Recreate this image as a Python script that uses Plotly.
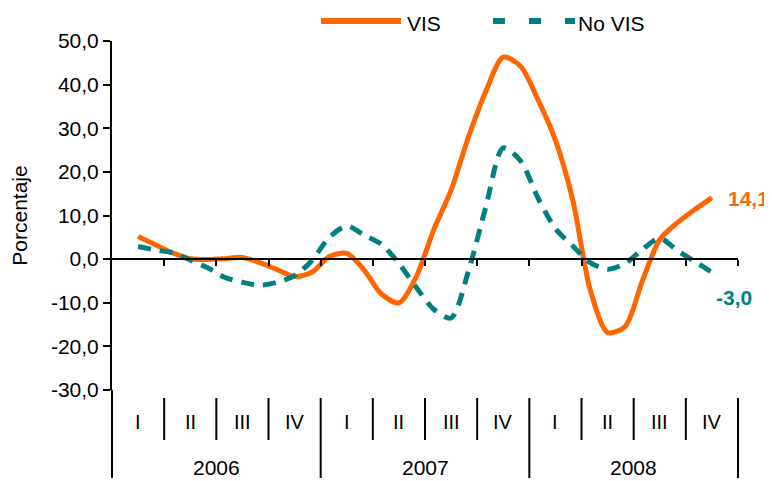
import plotly.graph_objects as go

# ---- data (monthly, Feb-2006 .. Nov-2008; month index 0 = Jan-2006) ----
first_month_index = 1
vis = [5.2, 3.3, 1.4, 0.1, -0.1, 0.1, 0.4, -0.8, -2.4, -4.0, -3.0, 0.6,
       1.3, -2.5, -8.0, -10.0, -4.0, 6.7, 15.8, 28.0, 38.5, 46.3, 44.2, 36.5,
       27.3, 13.5, -7.0, -16.8, -15.5, -5.0, 4.5, 8.3, 11.3, 14.1]
no_vis = [2.9, 2.1, 1.4, -0.2, -2.0, -4.2, -5.3, -6.0, -5.3, -3.8, -0.3, 5.0,
          7.6, 5.5, 3.4, -1.0, -6.5, -11.5, -13.5, -2.7, 12.0, 25.5, 22.5, 14.0,
          7.0, 3.0, -0.8, -2.3, -1.0, 2.2, 4.8, 2.0, -0.5, -3.0]
years = ["2006", "2007", "2008"]
quarters = ["I", "II", "III", "IV"]
y_tick_values = [-30, -20, -10, 0, 10, 20, 30, 40, 50]
y_tick_labels = ["-30,0", "-20,0", "-10,0", "0,0", "10,0", "20,0", "30,0", "40,0", "50,0"]
series_names = ["VIS", "No VIS"]
last_vis_label = "14,1"
last_novis_label = "-3,0"

ORANGE = "#FF6600"
TEAL = "#008080"
FONT = "Liberation Sans, Arial, sans-serif"

# the page body has an 8px margin, so the figure is sized to fit the window
OFF = 8
W, H = 772 - OFF, 481 - OFF
ML, MT = 112 - OFF, 41 - OFF
plot_w, plot_h = 626, 349
MR = W - ML - plot_w
MB = H - MT - plot_h

x = list(range(first_month_index, first_month_index + len(vis)))
n_months = 12 * len(years)

fig = go.Figure()
fig.add_trace(go.Scatter(x=x, y=vis, mode="lines", name=series_names[0], showlegend=False,
                         line=dict(color=ORANGE, width=5, shape="spline", smoothing=0.8)))
fig.add_trace(go.Scatter(x=x, y=no_vis, mode="lines", name=series_names[1], showlegend=False,
                         line=dict(color=TEAL, width=5, dash="13px,9px", shape="spline", smoothing=0.8)))

ymin, ymax = y_tick_values[0], y_tick_values[-1]
zero_pos = (0 - ymin) / (ymax - ymin)
boundaries = [3 * k - 0.5 for k in range(1, 4 * len(years) + 1)]

fig.update_layout(
    width=W, height=H,
    margin=dict(l=ML, r=MR, t=MT, b=MB, autoexpand=False),
    paper_bgcolor="white", plot_bgcolor="white",
    font=dict(family=FONT, size=21, color="black"),
    showlegend=False,
    xaxis=dict(range=[-0.5, n_months - 0.5], anchor="free", position=zero_pos,
               showline=True, linecolor="black", linewidth=2,
               ticks="outside", ticklen=6, tickwidth=2, tickcolor="black",
               tickvals=boundaries, showticklabels=False,
               showgrid=False, zeroline=False, automargin=False),
    yaxis=dict(range=[ymin, ymax], tickvals=y_tick_values, ticktext=y_tick_labels,
               showline=True, linecolor="black", linewidth=2,
               ticks="outside", ticklen=7, tickwidth=2, tickcolor="black",
               showgrid=False, zeroline=False, automargin=False,
               title=dict(text="Porcentaje", standoff=18, font=dict(size=21))),
)

# reference-window pixel -> paper coordinates
def px_x(px):
    return (px - OFF - ML) / plot_w

def px_y(py):
    return (MT + plot_h - (py - OFF)) / plot_h

shapes = []
# y-axis line continued through the category area
shapes.append(dict(type="line", xref="paper", yref="paper", x0=0, x1=0, y0=0, y1=px_y(478),
                   line=dict(color="black", width=2)))
shapes.append(dict(type="line", xref="paper", yref="paper", x0=1, x1=1, y0=px_y(398), y1=px_y(478),
                   line=dict(color="black", width=2)))
for k, b in enumerate(boundaries[:-1], start=1):
    is_year = (k % 4 == 0)
    shapes.append(dict(type="line", xref="x", yref="paper", x0=b, x1=b,
                       y0=px_y(398), y1=px_y(478 if is_year else 440),
                       line=dict(color="black", width=2)))
# legend samples
shapes.append(dict(type="line", xref="paper", yref="paper", x0=px_x(321), x1=px_x(401),
                   y0=px_y(21), y1=px_y(21), line=dict(color=ORANGE, width=6)))
shapes.append(dict(type="line", xref="paper", yref="paper", x0=px_x(493), x1=px_x(575),
                   y0=px_y(21), y1=px_y(21), line=dict(color=TEAL, width=6, dash="12px,24px")))
fig.update_layout(shapes=shapes)

annotations = []
for yi, yr in enumerate(years):
    for qi, q in enumerate(quarters):
        center = yi * 12 + qi * 3 + 1
        annotations.append(dict(x=center, y=px_y(422), xref="x", yref="paper", text=q,
                                showarrow=False, font=dict(size=20), yanchor="middle"))
    annotations.append(dict(x=yi * 12 + 5.5, y=px_y(467), xref="x", yref="paper", text=yr,
                            showarrow=False, font=dict(size=21), yanchor="middle"))
annotations.append(dict(x=px_x(405), y=px_y(23), xref="paper", yref="paper", text=series_names[0],
                        showarrow=False, xanchor="left", yanchor="middle", font=dict(size=21)))
annotations.append(dict(x=px_x(576), y=px_y(23), xref="paper", yref="paper", text=series_names[1],
                        showarrow=False, xanchor="left", yanchor="middle", font=dict(size=21)))
annotations.append(dict(x=x[-1], y=vis[-1], xref="x", yref="y", text="<b>" + last_vis_label + "</b>",
                        showarrow=False, xanchor="left", xshift=14, yshift=-1,
                        font=dict(size=21, color=ORANGE)))
annotations.append(dict(x=x[-1], y=no_vis[-1], xref="x", yref="y", text="<b>" + last_novis_label + "</b>",
                        showarrow=False, xanchor="left", xshift=2, yshift=-25,
                        font=dict(size=21, color=TEAL)))
fig.update_layout(annotations=annotations)

fig.write_html("out.html")
